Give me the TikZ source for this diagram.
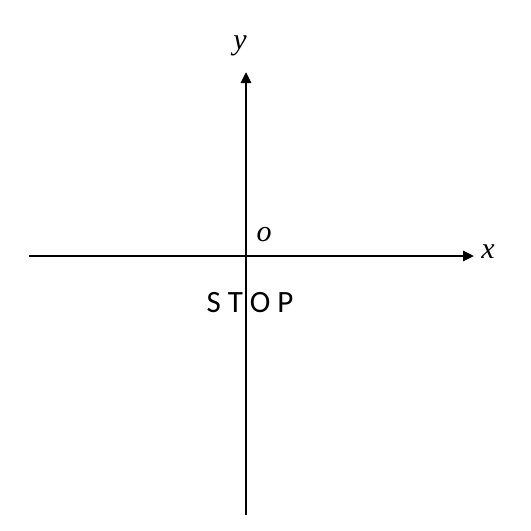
\documentclass[tikz,border=0pt]{standalone}
\usepackage{fontspec}
\setmainfont{Liberation Serif}
\newfontfamily\stopfont{Carlito}
\usetikzlibrary{arrows.meta}
\begin{document}
\begin{tikzpicture}[x=1pt,y=-1pt,
  axis/.style={line width=2.6pt,-{Triangle[length=11pt,width=10pt]}},
  lab/.style={inner sep=0pt,font=\itshape\fontsize{30}{30}\selectfont}]
\useasboundingbox (0,0) rectangle (531,531);
\coordinate (xs) at (29,256);
\coordinate (xe) at (474,256);
\coordinate (ys) at (246,515);
\coordinate (ye) at (246,72);
\draw[axis] (xs) -- (xe);
\draw[axis] (ys) -- (ye);
\node[lab] (xl) at (488,252) {x};
\node[lab] (yl) at (240,46) {y};
\node[lab] (ol) at (264,235) {o};
\node[inner sep=0pt,font=\stopfont\fontsize{31}{31}\selectfont] (stop) at (250,303) {S T O P};
\end{tikzpicture}
\end{document}
